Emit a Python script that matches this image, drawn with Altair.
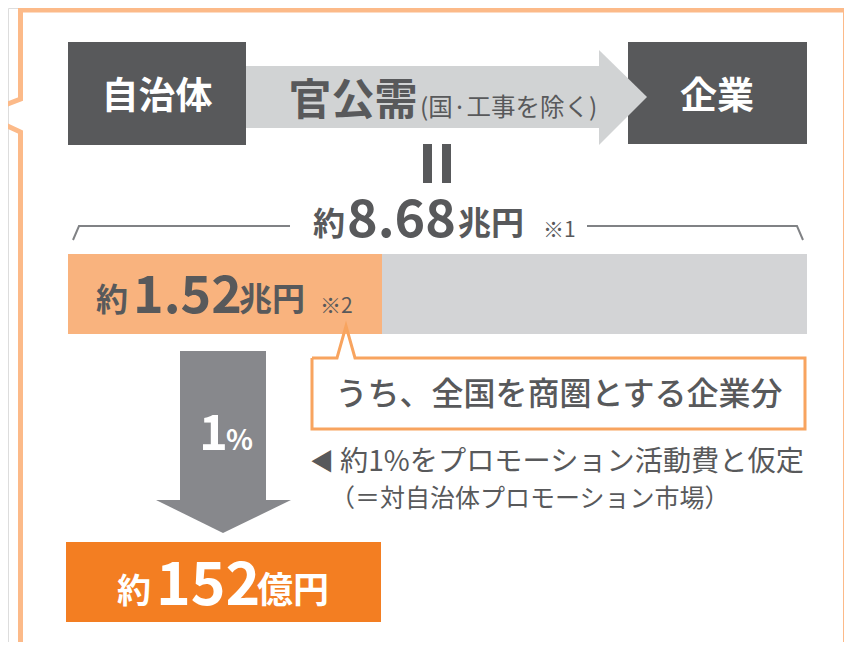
import altair as alt
import pandas as pd

# ---------------- data (values & labels) ----------------
flow_labels = ["自治体", "官公需", "企業"]
flow_note = "(国·工事を除く)"
total_value = [8.68]     # 兆円
share_value = [1.52]     # 兆円
promo_rate = [1]         # %
market_value = [152]     # 億円
approx = "約"
unit_cho = "兆円"
unit_oku = "億円"
note_marks = ["※1", "※2"]
callout_text = "うち、全国を商圏とする企業分"
assumption_lines = ["約1%をプロモーション活動費と仮定", "（＝対自治体プロモーション市場）"]

# ---------------- styles ----------------
DARK = "#58595B"
LGRAY = "#D1D3D4"
BARGRAY = "#D3D4D6"
PEACH = "#F9B37E"
FRAME = "#FCBA89"
CALLOUT = "#F8A45F"
ORANGE = "#F37E22"
MIDGRAY = "#87888C"
LINEGRAY = "#808285"
WHITE = "#FFFFFF"
FONT = "Noto Sans CJK JP"

W, H = 836, 634
XS = alt.Scale(domain=[8, 8 + W], nice=False, zero=False)
YS = alt.Scale(domain=[8, 8 + H], nice=False, zero=False, reverse=True)


def X(f="x"):
    return alt.X(f"{f}:Q", scale=XS, axis=None)


def Y(f="y"):
    return alt.Y(f"{f}:Q", scale=YS, axis=None)


# ---------------- layout (positions in page pixels) ----------------
rects = pd.DataFrame([
    dict(x=68, x2=246, y=42, y2=145, c=DARK),      # 自治体
    dict(x=628, x2=807, y=42, y2=144, c=DARK),     # 企業
    dict(x=246, x2=600, y=66, y2=128, c=LGRAY),    # arrow shaft
    dict(x=423, x2=432, y=144, y2=183, c=DARK),    # equals
    dict(x=442, x2=451, y=144, y2=183, c=DARK),
    dict(x=68, x2=807, y=254, y2=334, c=BARGRAY),  # total bar
    dict(x=68, x2=382, y=254, y2=334, c=PEACH),    # share bar
    dict(x=312, x2=805, y=358, y2=429, c=WHITE),   # callout fill
    dict(x=180, x2=266, y=351, y2=501, c=MIDGRAY), # down shaft
    dict(x=66, x2=381, y=542, y2=622, c=ORANGE),   # result box
])

rect_layer = alt.Chart(rects).mark_rect().encode(
    x=X(), x2="x2:Q", y=Y(), y2="y2:Q", color=alt.Color("c:N", scale=None)
)

right_head = pd.DataFrame(dict(x=[599, 647], y=[50, 97], y2=[145, 97]))
right_head_layer = alt.Chart(right_head).mark_area(orient="vertical", color=LGRAY).encode(
    x=X(), y=Y(), y2="y2:Q"
)

down_head = pd.DataFrame(dict(y=[500, 533], x=[156, 223], x2=[291, 223]))
down_head_layer = alt.Chart(down_head).mark_area(orient="horizontal", color=MIDGRAY).encode(
    y=Y(), x=X(), x2="x2:Q"
)

frame_pts = [(845.5, 660), (845.5, 10), (20.5, 10), (20.5, 99), (-18, 114), (20.5, 132), (20.5, 660)]
frame = pd.DataFrame([dict(x=a, y=b, o=i) for i, (a, b) in enumerate(frame_pts)])
frame_layer = alt.Chart(frame).mark_line(color=FRAME, strokeWidth=5, strokeJoin="miter").encode(
    x=X(), y=Y(), order="o:Q"
)

bracket_pts = [("L", 73, 240), ("L", 79, 226), ("L", 290, 226),
               ("R", 587, 226), ("R", 797, 226), ("R", 803, 240)]
bracket = pd.DataFrame([dict(s=s, x=a, y=b, o=i) for i, (s, a, b) in enumerate(bracket_pts)])
bracket_layer = alt.Chart(bracket).mark_line(color=LINEGRAY, strokeWidth=2).encode(
    x=X(), y=Y(), order="o:Q", detail="s:N"
)

callout_pts = [(312, 358), (337, 358), (346, 326), (355, 358), (805, 358),
               (805, 429), (312, 429), (312, 358)]
callout = pd.DataFrame([dict(x=a, y=b, o=i) for i, (a, b) in enumerate(callout_pts)])
callout_layer = alt.Chart(callout).mark_line(color=CALLOUT, strokeWidth=3, strokeJoin="miter").encode(
    x=X(), y=Y(), order="o:Q"
)

# ---------------- texts ----------------
bold_left = pd.DataFrame([
    dict(t=approx, x=313, y=235, s=32, c=DARK),
    dict(t=f"{total_value[0]:.2f}", x=347, y=237, s=52, c=DARK),
    dict(t=unit_cho, x=458, y=235, s=33, c=DARK),
    dict(t=approx, x=96, y=311, s=32, c=DARK),
    dict(t=f"{share_value[0]:.2f}", x=133, y=313, s=52, c=DARK),
    dict(t=unit_cho, x=239, y=311, s=33, c=DARK),
    dict(t=f"{promo_rate[0]}", x=199, y=450, s=49, c=WHITE),
    dict(t="%", x=226, y=450, s=28, c=WHITE),
    dict(t=approx, x=117, y=603, s=34, c=WHITE),
    dict(t=f"{market_value[0]}", x=156, y=605, s=59, c=WHITE),
    dict(t=unit_oku, x=257, y=603, s=36, c=WHITE),
])
bold_center = pd.DataFrame([
    dict(t=flow_labels[0], x=157, y=109, s=37, c=WHITE),
    dict(t=flow_labels[1], x=353, y=115, s=43, c=DARK),
    dict(t=flow_labels[2], x=717, y=109, s=37, c=WHITE),
])
reg_left = pd.DataFrame([
    dict(t=flow_note, x=420, y=116, s=24.5, c=DARK),
    dict(t=note_marks[0], x=543, y=237, s=21, c=DARK),
    dict(t=note_marks[1], x=320, y=313, s=21, c=DARK),
    dict(t="◀", x=310, y=470, s=24, c=DARK),
    dict(t=assumption_lines[0], x=340, y=471, s=28.2, c=DARK),
    dict(t=assumption_lines[1], x=330, y=507, s=25, c=DARK),
])
reg_center = pd.DataFrame([
    dict(t=callout_text, x=559, y=405, s=32, c=DARK),
])


def text_layer(df, align, weight):
    return alt.Chart(df).mark_text(
        align=align, baseline="alphabetic", font=FONT, fontWeight=weight
    ).encode(
        x=X(), y=Y(), text="t:N",
        size=alt.Size("s:Q", scale=None),
        color=alt.Color("c:N", scale=None),
    )


chart = alt.layer(
    frame_layer,
    rect_layer,
    right_head_layer,
    down_head_layer,
    bracket_layer,
    callout_layer,
    text_layer(bold_left, "left", "bold"),
    text_layer(bold_center, "center", "bold"),
    text_layer(reg_left, "left", "normal"),
    text_layer(reg_center, "center", 500),
).properties(
    width=W, height=H, autosize=alt.AutoSizeParams(type="none"), padding=0
).configure_view(stroke=None).configure(background="white")

chart.save("out.html", embed_options={"renderer": "svg", "actions": False})
